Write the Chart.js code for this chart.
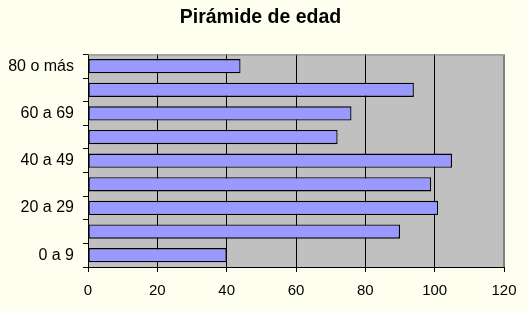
<!DOCTYPE html>
<html>
<head>
<meta charset="utf-8">
<script src="https://cdn.jsdelivr.net/npm/chart.js@4.4.1/dist/chart.umd.min.js"></script>
<style>
  html, body { margin: 0; padding: 0; background: #FFFFF0; }
  #edadChart { display: block; }
</style>
</head>
<body>
<canvas id="edadChart" width="527" height="312"></canvas>
<script>
// data (bottom to top)
var categorias = ["0 a 9", "10 a 19", "20 a 29", "30 a 39", "40 a 49", "50 a 59", "60 a 69", "70 a 79", "80 o más"];
var poblacion = [40, 90, 101, 99, 105, 72, 76, 94, 44];
var xTicks = [0, 20, 40, 60, 80, 100, 120];

var fontFam = "'Liberation Sans', Arial, sans-serif";

// gray plot area with a gray frame on top and right
var plotArea = {
  id: 'plotArea',
  beforeDraw: function(chart) {
    var c = chart.ctx, a = chart.chartArea;
    c.save();
    c.fillStyle = '#C0C0C0';
    c.fillRect(a.left, a.top, a.right - a.left, a.bottom - a.top);
    c.restore();
  },
  afterDatasetsDraw: function(chart) {
    var c = chart.ctx, a = chart.chartArea;
    c.save();
    c.strokeStyle = '#808080';
    c.lineWidth = 1;
    c.beginPath();
    c.moveTo(a.left, a.top + 0.5);
    c.lineTo(a.right - 0.5, a.top + 0.5);
    c.lineTo(a.right - 0.5, a.bottom);
    c.stroke();
    c.restore();
  }
};

var ctx = document.getElementById("edadChart").getContext("2d");
var edadChart = new Chart(ctx, {
  type: 'bar',
  data: {
    labels: categorias,
    datasets: [{
      label: 'Pirámide de edad',
      data: poblacion,
      backgroundColor: '#9999FF',
      borderColor: '#000000',
      borderWidth: 1.3,
      borderSkipped: false,
      categoryPercentage: 1,
      barPercentage: 0.6
    }]
  },
  options: {
    indexAxis: 'y',
    responsive: false,
    animation: false,
    layout: { padding: { top: 0, right: 6, bottom: 0, left: 0 } },
    plugins: {
      legend: { display: false },
      tooltip: { enabled: false },
      title: {
        display: true,
        text: 'Pirámide de edad',
        color: '#000000',
        font: { family: fontFam, size: 19.5, weight: 'bold' },
        padding: { top: 6, bottom: 25 }
      }
    },
    scales: {
      y: {
        reverse: true,
        afterFit: function(scale) { scale.width = 88; },
        grid: {
          offset: true,
          drawOnChartArea: false,
          color: '#000000',
          tickLength: 5
        },
        border: { color: '#000000', width: 1 },
        ticks: {
          autoSkip: false,
          color: '#000000',
          padding: 9,
          font: { family: fontFam, size: 16 },
          callback: function(val, i) {
            return i % 2 === 0 ? categorias[i] : '';
          }
        }
      },
      // empty spacer on the right so the title stays centred on the page
      yRight: {
        type: 'linear',
        position: 'right',
        afterFit: function(scale) { scale.width = 17; },
        grid: { display: false },
        border: { display: false },
        ticks: { display: false }
      },
      x: {
        min: xTicks[0],
        max: xTicks[xTicks.length - 1],
        afterFit: function(scale) { scale.height = 45; },
        afterBuildTicks: function(scale) {
          scale.ticks = xTicks.map(function(v) { return { value: v }; });
        },
        grid: {
          color: function(c) { return c.tick && c.tick.value === 120 ? '#808080' : '#000000'; },
          tickColor: '#000000',
          tickLength: 5
        },
        border: { color: '#000000', width: 1 },
        ticks: {
          color: '#000000',
          padding: 10,
          maxRotation: 0,
          font: { family: fontFam, size: 15 }
        }
      }
    }
  },
  plugins: [plotArea]
});
</script>
</body>
</html>
